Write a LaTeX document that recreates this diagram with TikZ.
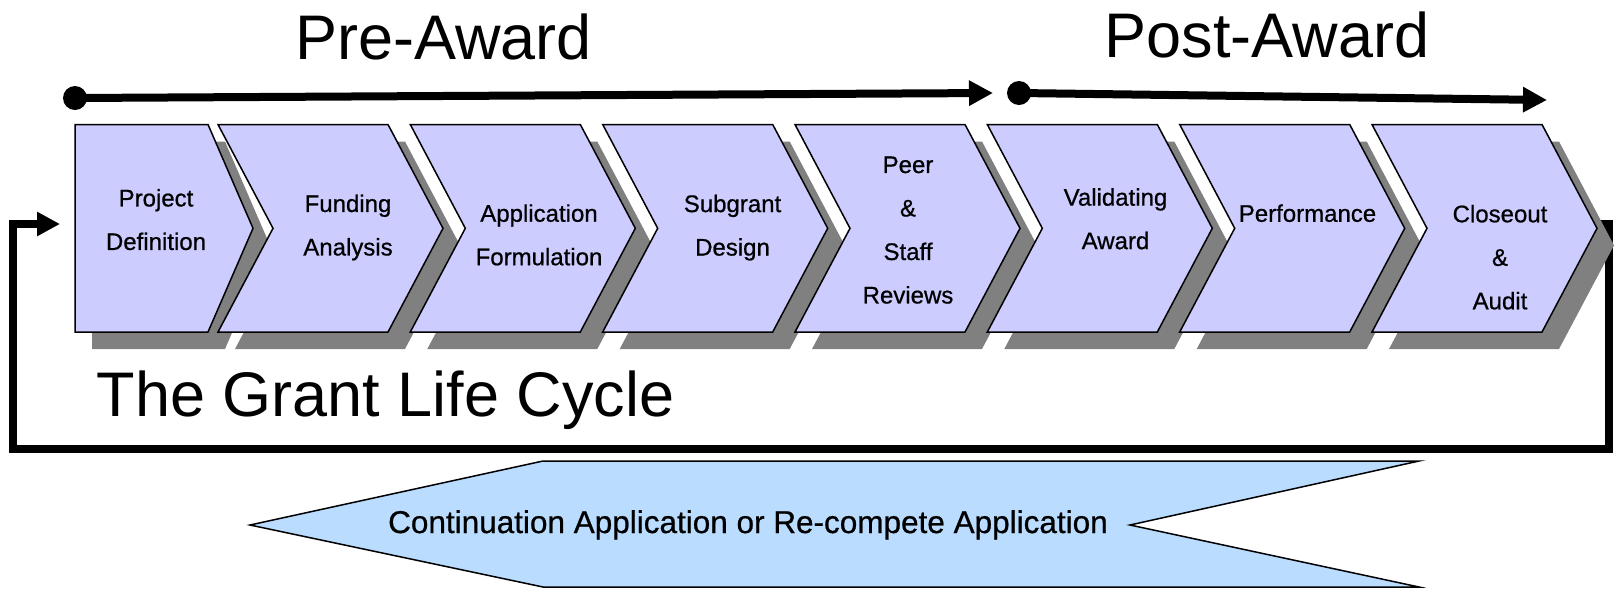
\documentclass[tikz,border=0pt]{standalone}
\usepackage{fontspec}
\setmainfont{Liberation Sans}
\newfontfamily\stagefont[FakeBold=0.7]{Liberation Sans}
\usetikzlibrary{arrows.meta}

\definecolor{stagefill}{RGB}{204,204,255}
\definecolor{shadowgray}{RGB}{128,128,128}
\definecolor{returnfill}{RGB}{185,220,255}

\begin{document}
\begin{tikzpicture}[x=1pt,y=-1pt,
  stagebox/.style={fill=stagefill,draw=black,line width=1.5pt,line join=miter},
  stageshadow/.style={fill=shadowgray,shift={(17,17)}},
  stagelabel/.style={font=\stagefont\fontsize{24}{43.5}\selectfont,align=center,inner sep=0pt},
  phaselabel/.style={font=\fontsize{63}{70}\selectfont,anchor=base,inner sep=0pt},
  phasedot/.style={circle,fill=black,minimum size=24pt,inner sep=0pt},
  phaseline/.style={line width=8pt,-{Triangle[length=24pt,width=24pt]}},
  loopline/.style={line width=8pt,line join=miter,-{Triangle[length=23pt,width=23pt]}},
  returnshape/.style={fill=returnfill,draw=black,line width=1.5pt,line join=miter},
  returnlabel/.style={font=\stagefont\fontsize{31.5}{36}\selectfont,anchor=base,inner sep=0pt}]

\useasboundingbox (0,0) rectangle (1614,590);

% ---- phase headings and timelines ----
\node[phaselabel] (pre) at (443.6,59) {Pre-Award};
\node[phaselabel] (post) at (1267,57) {Post-Award};

\node[phasedot] (preA) at (75,98) {};
\coordinate (preB) at (993,93);
\draw[phaseline] (preA.center) -- (preB);

\node[phasedot] (postA) at (1019,93) {};
\coordinate (postB) at (1547,100);
\draw[phaseline] (postA.center) -- (postB);

% ---- feedback loop from the last stage back to the first ----
\coordinate (loopstart) at (1596,224);
\coordinate (loopend) at (60,224);
\draw[loopline] (loopstart) -- (1608.5,224) -- (1608.5,449)
  -- (12.5,449) -- (12.5,224) -- (loopend);

% ---- stage shadows ----
\fill[stageshadow] (75,124.5) -- (208,124.5) -- (253,228.3) -- (208,332) -- (75,332) -- cycle;
\foreach \l in {218,410.3,602.7,795,987.3,1179.7,1372}
  \fill[stageshadow] (\l,124.5) -- ++(170,0) -- ++(55,103.8) -- ++(-55,103.7)
    -- ++(-170,0) -- ++(55,-103.7) -- cycle;

% ---- stage chevrons ----
\draw[stagebox] (75,124.5) -- (208,124.5) -- (253,228.3) -- (208,332) -- (75,332) -- cycle;
\foreach \l in {218,410.3,602.7,795,987.3,1179.7,1372}
  \draw[stagebox] (\l,124.5) -- ++(170,0) -- ++(55,103.8) -- ++(-55,103.7)
    -- ++(-170,0) -- ++(55,-103.7) -- cycle;

% ---- stage labels ----
\node[stagelabel] (s1) at (156,219.6) {Project\\Definition};
\node[stagelabel] (s2) at (348,227.5) {Funding\\Analysis};
\node[stagelabel] (s3) at (539,234.9) {Application\\Formulation};
\node[stagelabel] (s4) at (732.5,227.6) {Subgrant\\Design};
\node[stagelabel] (s5) at (908,230.1) {Peer\\\&\\Staff\\Reviews};
\node[stagelabel] (s6) at (1115.5,218.8) {Validating\\Award};
\node[stagelabel] (s7) at (1307.5,213.2) {Performance};
\node[stagelabel] (s8) at (1500,257.2) {Closeout\\\&\\Audit};

% ---- title ----
\node[phaselabel] (title) at (385.5,416) {The Grant Life Cycle};

% ---- continuation arrow ----
\draw[returnshape] (250,525) -- (543,461) -- (1419,461) -- (1130,525)
  -- (1419,587) -- (543,587) -- cycle;
\node[returnlabel] (cont) at (748,533) {Continuation Application or Re-compete Application};

\end{tikzpicture}
\end{document}
